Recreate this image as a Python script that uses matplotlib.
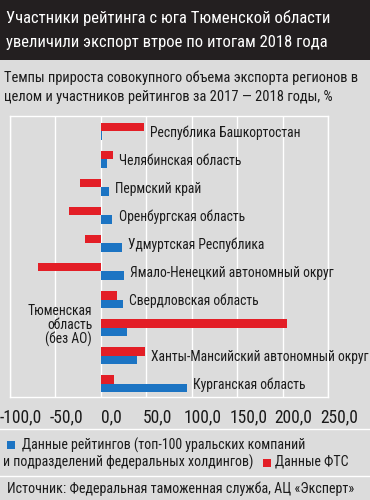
import matplotlib
matplotlib.use("Agg")
import matplotlib.pyplot as plt
from matplotlib import font_manager
from matplotlib.patches import Rectangle
from matplotlib.transforms import ScaledTranslation
import numpy as np

# ---------------- data ----------------
regions = [
    "Республика Башкортостан",
    "Челябинская область",
    "Пермский край",
    "Оренбургская область",
    "Удмуртская Республика",
    "Ямало-Ненецкий автономный округ",
    "Свердловская область",
    "Тюменская\nобласть\n(без АО)",
    "Ханты-Мансийский автономный округ",
    "Курганская область",
]
fts_values = [47, 13, -23, -35, -18, -69, 17.6, 205, 48.7, 14.6]
rating_values = [1, 6.5, 9, 12.7, 23, 25, 24, 28.5, 39.5, 94.5]
x_ticks = [-100, -50, 0, 50, 100, 150, 200, 250]
x_tick_labels = ["-100,0", "-50,0", "0,0", "50,0", "100,0", "150,0", "200,0", "250,0"]

title_lines = ["Участники рейтинга с юга Тюменской области",
               "увеличили экспорт втрое по итогам 2018 года"]
subtitle_lines = ["Темпы прироста совокупного объема экспорта регионов в",
                  "целом и участников рейтингов за 2017 — 2018 годы, %"]
legend_rating = "Данные рейтингов (топ-100 уральских компаний"
legend_rating2 = "и подразделений федеральных холдингов)"
legend_fts = "Данные ФТС"
source = "Источник: Федеральная таможенная служба, АЦ «Эксперт»"

# ---------------- style ----------------
available = {f.name for f in font_manager.fontManager.ttflist}
font = "DejaVu Sans"
for cand in ["Liberation Sans Narrow", "Roboto Condensed", "Open Sans Condensed",
             "DejaVu Sans Condensed", "Liberation Sans", "Roboto"]:
    if cand in available:
        font = cand
        break
plt.rcParams["font.family"] = [font, "DejaVu Sans"]

RED = "#e31e26"
BLUE = "#1c74c3"
BG = "#dcdcdc"
DARK = "#231f20"
TXT = "#1a1a1a"

W, H = 370, 500
fig = plt.figure(figsize=(W / 100, H / 100), dpi=100, facecolor=BG)
renderer = fig.canvas.get_renderer()


def fx(px):
    return px / W


def fy(py):
    return 1 - py / H


def width_px(t):
    return t.get_window_extent(renderer).width


def fit_group(items, how="median", also=()):
    """items: list of (text, target width px); set a shared font size."""
    ratios = [target / width_px(t) for t, target in items]
    r = float(np.median(ratios)) if how == "median" else float(min(ratios))
    for t in [t for t, _ in items] + list(also):
        t.set_fontsize(t.get_fontsize() * r)


# title band
fig.patches.append(Rectangle((0, fy(60)), 1, 60 / H, transform=fig.transFigure,
                             facecolor=DARK, edgecolor="none", zorder=0))
t1 = fig.text(fx(6), fy(18), title_lines[0], color="white", fontsize=13, va="center", ha="left")
t2 = fig.text(fx(6), fy(42), title_lines[1], color="white", fontsize=13, va="center", ha="left")
fit_group([(t1, 324), (t2, 327)], how="min")

s1 = fig.text(fx(4), fy(78), subtitle_lines[0], color=TXT, fontsize=10, va="center", ha="left")
s2 = fig.text(fx(4), fy(97), subtitle_lines[1], color=TXT, fontsize=10, va="center", ha="left")
fit_group([(s1, 358), (s2, 357)], how="min")

# axes
ax = fig.add_axes([fx(10), fy(397), fx(328) - fx(10), (397 - 116) / H])
ax.set_facecolor(BG)
y = np.arange(len(regions))
h = 0.296
ax.barh(y - h / 2, fts_values, height=h, color=RED, zorder=3)
ax.barh(y + h / 2, rating_values, height=h, color=BLUE, zorder=3)
ax.set_xlim(-100, 250)
ax.set_ylim(len(regions) - 1 + 0.48, -0.55)
ax.set_xticks(x_ticks)
ax.set_xticklabels(x_tick_labels, fontsize=10, color=TXT)
ax.tick_params(axis="x", length=0, pad=8)
ax.set_yticks([])
ax.grid(axis="x", color="white", linewidth=1.0, zorder=1)
for s in ax.spines.values():
    s.set_color("white")
    s.set_linewidth(1.0)

fig.canvas.draw()
ticklabs = ax.get_xticklabels()
fit_group([(ticklabs[0], 43.3), (ticklabs[-1], 36.7)], also=ticklabs[1:-1])
for lab in ticklabs:
    lab.set_transform(lab.get_transform() + ScaledTranslation(11 / 100, 0, fig.dpi_scale_trans))

label_targets = [152.7, 123.4, 87.3, 128, 136.7, 205.7, 129.3, None, 211.3, 111.7]
label_items = []
for i, name in enumerate(regions):
    if "\n" in name:
        t = ax.text(-9.5, i - 0.08, name, ha="right", va="center", fontsize=10, color=TXT,
                    linespacing=1.0, multialignment="right")
    else:
        xpos = max(fts_values[i], rating_values[i], 0) + 7
        t = ax.text(xpos, i + 0.05, name, ha="left", va="center", fontsize=10, color=TXT)
    label_items.append(t)
ratios = [label_targets[i] / width_px(t) for i, t in enumerate(label_items) if label_targets[i]]
r = float(np.median(ratios))
for t in label_items:
    t.set_fontsize(t.get_fontsize() * r)

# separators
for py in (429, 476):
    fig.lines.append(plt.Line2D([0, 1], [fy(py), fy(py)], transform=fig.transFigure,
                                color="white", linewidth=1.0))

# legend
fig.patches.append(Rectangle((fx(7), fy(449)), 8 / W, 8 / H, transform=fig.transFigure,
                             facecolor=BLUE, edgecolor="none"))
l1 = fig.text(fx(21.5), fy(445), legend_rating, fontsize=10, color=TXT, va="center", ha="left")
l2 = fig.text(fx(2.7), fy(462), legend_rating2, fontsize=10, color=TXT, va="center", ha="left")
fig.patches.append(Rectangle((fx(262.5), fy(467)), 8 / W, 8 / H, transform=fig.transFigure,
                             facecolor=RED, edgecolor="none"))
l3 = fig.text(fx(275), fy(462), legend_fts, fontsize=10, color=TXT, va="center", ha="left")
fit_group([(l1, 283.3), (l2, 242.3), (l3, 73.3)])

# source
src = fig.text(fx(6.7), fy(489), source, fontsize=10, color=TXT, va="center", ha="left")
fit_group([(src, 346.3)])

fig.savefig("out.png", dpi=100, facecolor=BG)
